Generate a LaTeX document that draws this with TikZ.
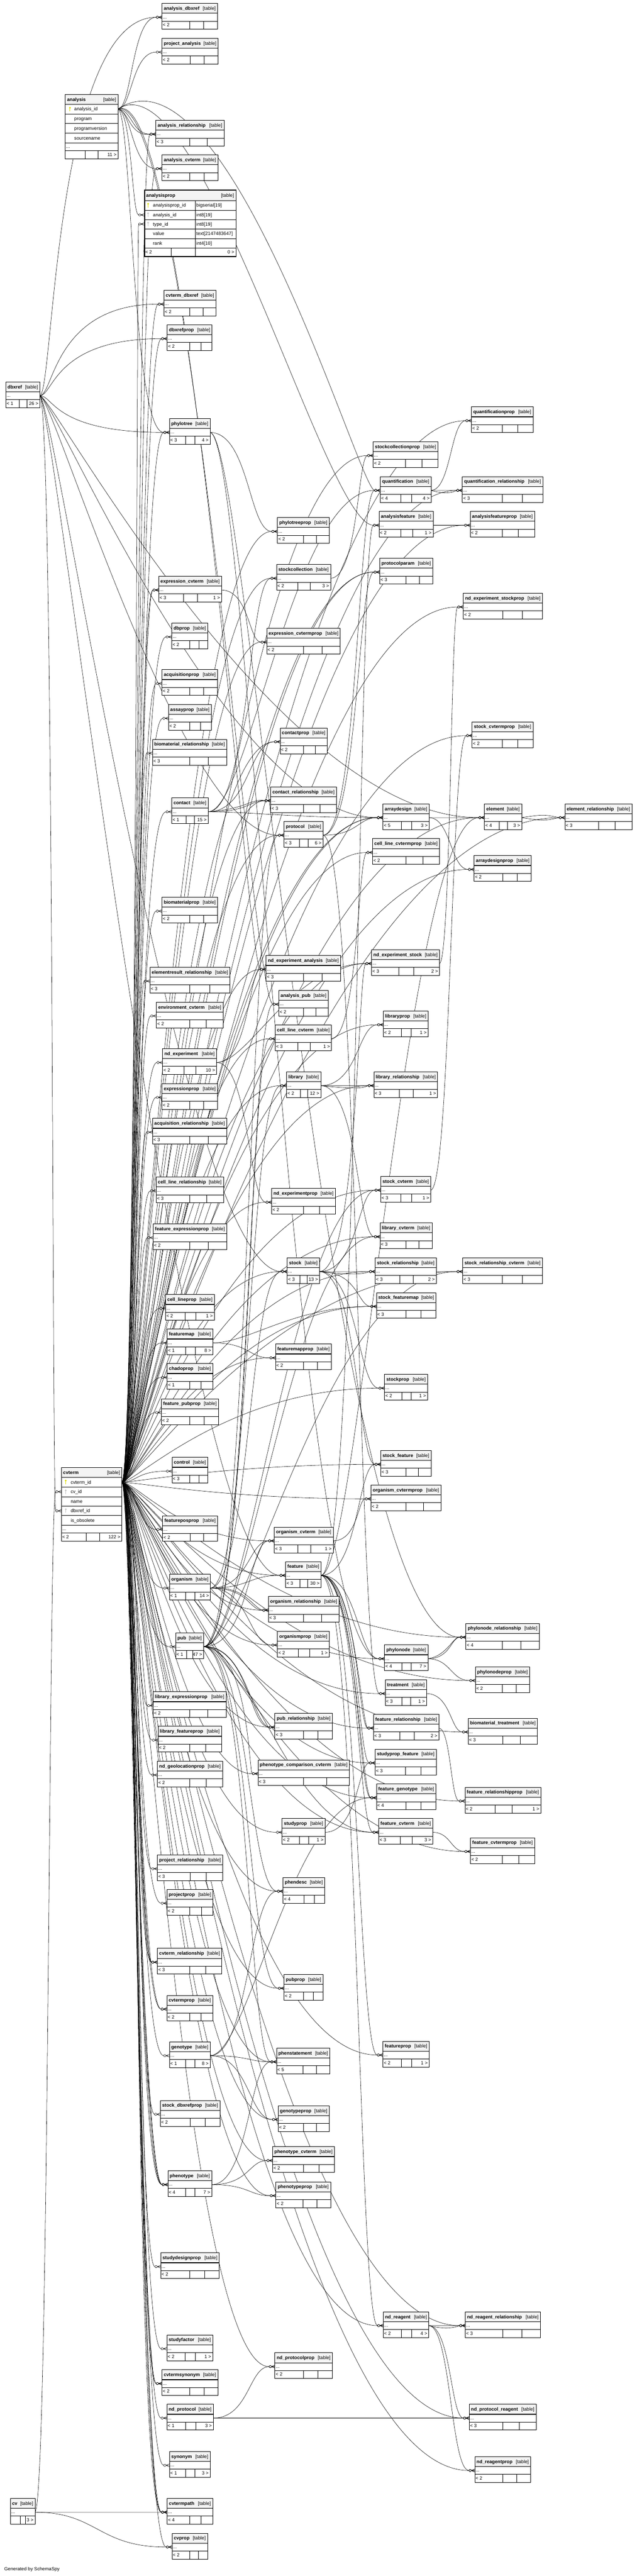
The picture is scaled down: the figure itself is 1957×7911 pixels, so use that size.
\documentclass[tikz,border=0pt]{standalone}
\usepackage{fontspec}
\setmainfont{Liberation Sans}
\usetikzlibrary{calc}
\definecolor{hdrfill}{HTML}{F4F4F4}
\definecolor{pkkey}{HTML}{DCDC00}
\definecolor{fkkey}{HTML}{C4C4C4}
\pgfdeclarelayer{paper}
\pgfdeclarelayer{bg}
\pgfsetlayers{paper,bg,main}
\tikzset{
  tbox/.style={draw, line width=1.1pt, inner sep=0pt, anchor=north west},
  lbl/.style={inner sep=0pt, anchor=base west},
  rlbl/.style={inner sep=0pt, anchor=base east},
  fk/.style={line width=0.9pt, line cap=round},
  hline/.style={line width=1.8pt},
  fline/.style={line width=1.4pt}
}
% collapsed table: name, x1, y1, x2, parents, children
\newcommand\schtab[6]{%
  \pgfmathsetmacro\tabw{#4-#2}%
  \ifx\relax#6\relax
    \pgfmathsetmacro\tabda{#2+0.5*\tabw}\pgfmathsetmacro\tabdb{#2+0.75*\tabw}%
  \else
    \pgfmathsetmacro\tabda{#2+0.4*\tabw}\pgfmathsetmacro\tabdb{#2+0.62*\tabw}%
  \fi
  \fill[white] (#2,#3) rectangle (#4,#3+79);
  \fill[hdrfill] (#2,#3) rectangle (#4,#3+31);
  \node[lbl] at (#2+6,#3+21) {\bfseries #1};
  \node[rlbl] at (#4-5,#3+21) {[table]};
  \node[lbl] at (#2+3,#3+47) {...};
  \draw[hline] (#2,#3+31) -- (#4,#3+31);
  \draw[fline] (#2,#3+55) -- (#4,#3+55);
  \draw (\tabda,#3+55) -- (\tabda,#3+79) (\tabdb,#3+55) -- (\tabdb,#3+79);
  \ifx\relax#5\relax\else\node[lbl] at (#2+3,#3+72) {< #5};\fi
  \ifx\relax#6\relax\else\node[rlbl] at (#4-4,#3+72) {#6 >};\fi
  \node[tbox, minimum width=\tabw pt, minimum height=79pt] (#1) at (#2,#3) {};
  \coordinate (#1-l) at (#2,#3+43);
  \coordinate (#1-r) at (#4,#3+43);
}
% key icon: x, y, colour
\newcommand\keyicon[3]{%
  \draw[#3, line width=1.8pt] (#1,#2-2) -- (#1,#2+7);
  \fill[#3] (#1,#2-4) circle[radius=3pt];
}
% crow foot with open circle at the child end
\newcommand\crowend{%
    ({\x2-10pt},\y2) -- (\p2)
    ({\x2-10pt},\y2) -- (\x2,{\y2+4pt})
    ({\x2-10pt},\y2) -- (\x2,{\y2-4pt})
    ({\x2-13.5pt},\y2) circle[radius=3.5pt]}
% foreign key: [bend], from, to, leaving x, arriving x
\newcommand\fk[5][0]{%
  \draw[fk] let \p1=(#2), \p2=(#3) in
    (\p1) .. controls (#4pt,{\y1+#1pt}) and (#5pt,{\y2+#1pt}) .. ({\x2-17pt},\y2)
    \crowend;
}
% foreign key arching over: from, to, first control x, y, arriving x
\newcommand\fkarc[5]{%
  \draw[fk] let \p1=(#1), \p2=(#2) in
    (\p1) .. controls (#3,#4) and (#5pt,\y2) .. ({\x2-17pt},\y2)
    \crowend;
}
\begin{document}
\catcode`\_=12
\fontsize{14.5}{17}\selectfont
\begin{tikzpicture}[x=1pt,y=-1pt]
\useasboundingbox (0,0) rectangle (1957,7911);
\begin{pgfonlayer}{paper}
\fill[white] (0,0) rectangle (1957,7911);
\end{pgfonlayer}

% analysis
\fill[white] (200,290) rectangle (362,487);
\fill[hdrfill] (200,290) rectangle (362,320);
\node[lbl] at (206,311) {\bfseries analysis};
\node[rlbl] at (357,311) {[table]};
\foreach \yy/\tx in {320/analysis_id,350/program,379/programversion,409/sourcename}
  {\node[lbl] at (228,\yy+20) {\tx};}
\draw (200,350) -- (362,350) (200,379) -- (362,379) (200,409) -- (362,409) (200,439) -- (362,439);
\draw[hline] (200,320) -- (362,320);
\draw[fline] (200,463) -- (362,463);
\node[lbl] at (203,455) {...};
\draw (262,463) -- (262,487) (301,463) -- (301,487);
\node[rlbl] at (358,480) {11 >};
\keyicon{215}{335}{pkkey}
\node[tbox, minimum width=162pt, minimum height=197pt] (analysis) at (200,290) {};
\coordinate (analysis-r) at (362,335);

% analysisprop
\fill[white] (443,583) rectangle (724,787);
\fill[hdrfill] (443,583) rectangle (724,616);
\node[lbl] at (449,605) {\bfseries analysisprop};
\node[rlbl] at (719,605) {[table]};
\foreach \yy/\cn/\ct in {616/analysisprop_id/bigserial[19],645/analysis_id/int8[19],674/type_id/int8[19],703/value/text[2147483647],732/rank/int4[10]}
  {\node[lbl] at (470,\yy+20) {\cn}; \node[lbl] at (603,\yy+20) {\ct};}
\draw (443,645) -- (724,645) (443,674) -- (724,674) (443,703) -- (724,703) (443,732) -- (724,732);
\draw[hline] (443,616) -- (724,616);
\draw[fline] (443,761) -- (724,761);
\draw (600,616) -- (600,787) (526,761) -- (526,787);
\node[lbl] at (446,780) {< 2};
\node[rlbl] at (720,780) {0 >};
\keyicon{455}{630}{pkkey}
\keyicon{455}{659}{fkkey}
\keyicon{455}{688}{fkkey}
\node[tbox, line width=2.5pt, minimum width=281pt, minimum height=204pt] (analysisprop) at (443,583) {};
\coordinate (aprop-a) at (443,660);
\coordinate (aprop-t) at (443,688);

% cvterm
\fill[white] (188,4506) rectangle (374,4732);
\fill[hdrfill] (188,4506) rectangle (374,4537);
\node[lbl] at (194,4527) {\bfseries cvterm};
\node[rlbl] at (369,4527) {[table]};
\foreach \yy/\tx in {4537/cvterm_id,4566/cv_id,4596/name,4625/dbxref_id,4654/is_obsolete}
  {\node[lbl] at (217,\yy+20) {\tx};}
\draw (188,4566) -- (374,4566) (188,4596) -- (374,4596) (188,4625) -- (374,4625) (188,4654) -- (374,4654) (188,4683) -- (374,4683);
\draw[hline] (188,4537) -- (374,4537);
\draw[fline] (188,4708) -- (374,4708);
\node[lbl] at (191,4700) {...};
\draw (265,4708) -- (265,4732) (306,4708) -- (306,4732);
\node[lbl] at (191,4725) {< 2};
\node[rlbl] at (370,4725) {122 >};
\keyicon{202}{4551}{pkkey}
\keyicon{202}{4581}{fkkey}
\keyicon{202}{4639}{fkkey}
\node[tbox, minimum width=186pt, minimum height=226pt] (cvterm) at (188,4506) {};
\coordinate (cvterm-r) at (374,4552);
\coordinate (cvterm-cv) at (188,4581);
\coordinate (cvterm-dx) at (188,4640);

\schtab{dbxref}{17}{1172}{122}{1}{26}
\schtab{cv}{31}{7672}{107}{}{3}

\schtab{analysis_dbxref}{497}{10}{668}{2}{}
\schtab{project_analysis}{497}{117}{670}{2}{}
\schtab{analysis_relationship}{478}{369}{688}{3}{}
\schtab{analysis_cvterm}{497}{475}{669}{2}{}
\schtab{cvterm_dbxref}{503}{891}{663}{2}{}
\schtab{dbxrefprop}{513}{997}{651}{2}{}
\schtab{phylotree}{520}{1285}{645}{3}{4}
\schtab{expression_cvterm}{487}{1769}{680}{3}{1}
\schtab{dbprop}{527}{1913}{638}{2}{}
\schtab{acquisitionprop}{497}{2056}{668}{2}{}
\schtab{assayprop}{517}{2163}{649}{2}{}
\schtab{biomaterial_relationship}{468}{2270}{696}{3}{}
\schtab{contact}{527}{2450}{639}{1}{15}
\schtab{biomaterialprop}{497}{2755}{668}{2}{}
\schtab{elementresult_relationship}{460}{2970}{706}{3}{}
\schtab{environment_cvterm}{480}{3077}{685}{2}{}
\schtab{nd_experiment}{499}{3220}{665}{2}{10}
\schtab{expressionprop}{497}{3327}{668}{2}{}
\schtab{acquisition_relationship}{468}{3434}{696}{3}{}
\schtab{cell_line_relationship}{479}{3614}{686}{3}{}
\schtab{feature_expressionprop}{470}{3758}{696}{2}{}
\schtab{cell_lineprop}{508}{3975}{658}{2}{1}
\schtab{featuremap}{513}{4081}{653}{1}{8}
\schtab{chadoprop}{513}{4187}{653}{1}{}
\schtab{feature_pubprop}{495}{4295}{671}{2}{}
\schtab{control}{528}{4475}{638}{3}{}
\schtab{featureposprop}{499}{4654}{668}{2}{}
\schtab{organism}{520}{4834}{646}{1}{14}
\schtab{pub}{539}{5014}{625}{1}{47}
\schtab{library_expressionprop}{470}{5195}{694}{2}{}
\schtab{library_featureprop}{485}{5301}{680}{2}{}
\schtab{nd_geolocationprop}{483}{5408}{683}{2}{}
\schtab{project_relationship}{483}{5696}{684}{3}{}
\schtab{projectprop}{512}{5802}{654}{2}{}
\schtab{cvterm_relationship}{483}{5983}{681}{3}{}
\schtab{cvtermprop}{512}{6127}{653}{2}{}
\schtab{genotype}{520}{6270}{645}{1}{8}
\schtab{stock_dbxrefprop}{492}{6450}{675}{2}{}
\schtab{phenotype}{515}{6666}{650}{4}{7}
\schtab{studydesignprop}{493}{6918}{673}{2}{}
\schtab{studyfactor}{512}{7170}{653}{2}{1}
\schtab{cvtermsynonym}{497}{7277}{669}{2}{}
\schtab{nd_protocol}{512}{7383}{655}{1}{3}
\schtab{synonym}{520}{7528}{645}{1}{3}
\schtab{cvtermpath}{513}{7672}{653}{4}{}
\schtab{cvprop}{528}{7779}{637}{2}{}

\schtab{phylotreeprop}{852}{1589}{1011}{2}{}
\schtab{stockcollection}{849}{1733}{1015}{2}{3}
\schtab{expression_cvtermprop}{819}{1929}{1045}{2}{}
\schtab{contactprop}{860}{2235}{1005}{2}{}
\schtab{contact_relationship}{831}{2416}{1033}{3}{}
\schtab{protocol}{872}{2522}{992}{3}{6}
\schtab{nd_experiment_analysis}{817}{2934}{1046}{3}{}
\schtab{analysis_pub}{856}{3041}{1008}{2}{}
\schtab{cell_line_cvterm}{845}{3147}{1018}{3}{1}
\schtab{library}{880}{3291}{985}{2}{12}
\schtab{nd_experimentprop}{834}{3649}{1030}{2}{}
\schtab{stock}{882}{3862}{981}{3}{13}
\schtab{featuremapprop}{846}{4127}{1018}{2}{}
\schtab{organism_cvterm}{842}{4689}{1023}{3}{1}
\schtab{feature}{877}{4795}{986}{3}{30}
\schtab{organism_relationship}{824}{4902}{1041}{3}{}
\schtab{organismprop}{852}{5009}{1011}{2}{1}
\schtab{pub_relationship}{844}{5261}{1021}{3}{}
\schtab{phenotype_comparison_cvterm}{792}{5404}{1073}{3}{}
\schtab{studyprop}{866}{5584}{998}{2}{1}
\schtab{phendesc}{869}{5765}{997}{4}{}
\schtab{pubprop}{872}{6063}{992}{2}{}
\schtab{phenstatement}{849}{6289}{1013}{5}{}
\schtab{genotypeprop}{854}{6466}{1011}{2}{}
\schtab{phenotype_cvterm}{837}{6592}{1027}{2}{}
\schtab{phenotypeprop}{847}{6700}{1015}{2}{}
\schtab{nd_protocolprop}{844}{7225}{1021}{2}{}

\schtab{stockcollectionprop}{1146}{1356}{1345}{2}{}
\schtab{quantification}{1168}{1463}{1324}{4}{4}
\schtab{analysisfeature}{1164}{1570}{1330}{2}{1}
\schtab{protocolparam}{1166}{1714}{1329}{3}{}
\schtab{arraydesign}{1176}{2468}{1318}{5}{3}
\schtab{cell_line_cvtermprop}{1144}{2575}{1350}{2}{}
\schtab{nd_experiment_stock}{1141}{2916}{1350}{3}{2}
\schtab{libraryprop}{1177}{3104}{1315}{2}{1}
\schtab{library_relationship}{1148}{3291}{1344}{3}{1}
\schtab{stock_cvterm}{1169}{3612}{1323}{3}{1}
\schtab{library_cvterm}{1167}{3755}{1327}{3}{}
\schtab{stock_relationship}{1152}{3862}{1340}{3}{2}
\schtab{stock_featuremap}{1156}{3969}{1339}{3}{}
\schtab{stockprop}{1181}{4220}{1313}{2}{1}
\schtab{stock_feature}{1169}{4454}{1324}{3}{}
\schtab{organism_cvtermprop}{1139}{4560}{1354}{2}{}
\schtab{phylonode}{1181}{5051}{1314}{4}{7}
\schtab{treatment}{1183}{5158}{1310}{3}{1}
\schtab{feature_relationship}{1147}{5264}{1348}{3}{2}
\schtab{studyprop_feature}{1152}{5371}{1340}{3}{}
\schtab{feature_genotype}{1156}{5478}{1339}{4}{}
\schtab{feature_cvterm}{1163}{5584}{1329}{3}{3}
\schtab{featureprop}{1176}{6268}{1318}{2}{1}
\schtab{nd_reagent}{1177}{7099}{1317}{2}{4}

\schtab{quantificationprop}{1448}{1249}{1637}{2}{}
\schtab{quantification_relationship}{1420}{1463}{1667}{3}{}
\schtab{analysisfeatureprop}{1444}{1570}{1642}{2}{}
\schtab{nd_experiment_stockprop}{1423}{1821}{1666}{2}{}
\schtab{stock_cvtermprop}{1450}{2216}{1637}{2}{}
\schtab{element}{1488}{2468}{1602}{4}{3}
\schtab{arraydesignprop}{1456}{2627}{1632}{2}{}
\schtab{stock_relationship_cvterm}{1421}{3862}{1666}{3}{}
\schtab{phylonode_relationship}{1431}{4985}{1656}{4}{}
\schtab{phylonodeprop}{1460}{5118}{1627}{2}{}
\schtab{biomaterial_treatment}{1438}{5276}{1651}{3}{}
\schtab{feature_relationshipprop}{1428}{5488}{1661}{2}{1}
\schtab{feature_cvtermprop}{1445}{5643}{1642}{2}{}
\schtab{nd_reagent_relationship}{1429}{7099}{1660}{3}{}
\schtab{nd_protocol_reagent}{1441}{7383}{1647}{3}{}
\schtab{nd_reagentprop}{1458}{7544}{1630}{2}{}

\schtab{element_relationship}{1735}{2468}{1941}{3}{}

\node[lbl] (gen) at (13,7895) {Generated by SchemaSpy};

\begin{pgfonlayer}{bg}
% from analysis
\foreach \c in {analysis_dbxref,project_analysis,analysis_relationship,analysis_cvterm,phylotree}
  {\fk{analysis-r}{\c-l}{405}{405}}
\fk[-8]{analysis-r}{analysis_relationship-l}{398}{398}
\fk{analysis-r}{aprop-a}{405}{405}
\fkarc{analysis-r}{quantification-l}{700}{110}{1105}
\fkarc{analysis-r}{analysisfeature-l}{620}{170}{1000}
\fkarc{analysis-r}{nd_experiment_analysis-l}{580}{240}{760}
\fkarc{analysis-r}{analysis_pub-l}{580}{270}{775}
% from dbxref
\foreach \c in {analysis_dbxref,cvterm_dbxref,dbxrefprop,phylotree} {\fk{dbxref-r}{\c-l}{165}{165}}
\fk{dbxref-r}{cvterm-dx}{165}{160}
\foreach \c in {protocol,feature,stock} {\fk{dbxref-r}{\c-l}{165}{560}}
\fk{dbxref-r}{arraydesign-l}{165}{700}
\fk{dbxref-r}{element-l}{165}{850}
% from cv
\fk{cv-r}{cvterm-cv}{150}{150}
\fk{cv-r}{cvtermpath-l}{300}{300}
\fk{cv-r}{cvprop-l}{300}{300}
% from cvterm
\fk{cvterm-r}{aprop-t}{420}{420}
\foreach \c in {analysis_relationship,analysis_cvterm,cvterm_dbxref,dbxrefprop,phylotree,expression_cvterm,dbprop,acquisitionprop,assayprop,biomaterial_relationship,contact,biomaterialprop,elementresult_relationship,environment_cvterm,nd_experiment,expressionprop,acquisition_relationship,cell_line_relationship,feature_expressionprop,cell_lineprop,featuremap,chadoprop,feature_pubprop,control,featureposprop,organism,pub,library_expressionprop,library_featureprop,nd_geolocationprop,project_relationship,projectprop,cvterm_relationship,cvtermprop,genotype,stock_dbxrefprop,phenotype,studydesignprop,studyfactor,cvtermsynonym,nd_protocol,synonym,cvtermpath,cvprop}
  {\fk{cvterm-r}{\c-l}{420}{420}}
\foreach \c in {expression_cvterm,cvterm_relationship,cvtermprop,phenotype,cvtermsynonym,cvtermpath}
  {\fk[6]{cvterm-r}{\c-l}{410}{430}}
\foreach \c in {cvterm_relationship,phenotype,cvtermpath}
  {\fk[-6]{cvterm-r}{\c-l}{430}{410}}
\fk[10]{cvterm-r}{phenotype-l}{400}{436}
\foreach \c in {phylotreeprop,stockcollection,expression_cvtermprop,contactprop,contact_relationship,protocol,nd_experiment_analysis,cell_line_cvterm,library,nd_experimentprop,stock,featuremapprop,organism_cvterm,feature,organism_relationship,organismprop,pub_relationship,phenotype_comparison_cvterm,studyprop,phendesc,pubprop,phenstatement,genotypeprop,phenotype_cvterm,phenotypeprop,nd_protocolprop}
  {\fk{cvterm-r}{\c-l}{420}{560}}
\foreach \c in {stockcollectionprop,protocolparam,arraydesign,cell_line_cvtermprop,nd_experiment_stock,libraryprop,library_relationship,stock_cvterm,library_cvterm,stock_relationship,stock_featuremap,stockprop,stock_feature,organism_cvtermprop,phylonode,treatment,feature_relationship,studyprop_feature,feature_genotype,feature_cvterm,featureprop,nd_reagent}
  {\fk{cvterm-r}{\c-l}{420}{700}}
\foreach \c in {protocolparam,arraydesign} {\fk[8]{cvterm-r}{\c-l}{425}{720}}
\foreach \c in {quantificationprop,quantification_relationship,analysisfeatureprop,nd_experiment_stockprop,stock_cvtermprop,element,arraydesignprop,stock_relationship_cvterm,phylonode_relationship,phylonodeprop,biomaterial_treatment,feature_relationshipprop,feature_cvtermprop,nd_reagent_relationship,nd_protocol_reagent,nd_reagentprop}
  {\fk{cvterm-r}{\c-l}{420}{850}}
\fk{cvterm-r}{element_relationship-l}{420}{1000}
% from the other parents
\foreach \c in {contactprop,contact_relationship,stockcollection} {\fk{contact-r}{\c-l}{765}{765}}
\fk[8]{contact-r}{contact_relationship-l}{755}{775}
\foreach \c in {arraydesign,quantification} {\fk{contact-r}{\c-l}{765}{900}}
\foreach \c in {protocolparam,arraydesign,treatment,quantification} {\fk{protocol-r}{\c-l}{1100}{1100}}
\fk{phylotree-r}{phylotreeprop-l}{765}{765}
\fk{phylotree-r}{phylonode-l}{765}{900}
\fk{phylotree-r}{phylonode_relationship-l}{765}{1000}
\fk{stockcollection-r}{stockcollectionprop-l}{1100}{1100}
\fk{expression_cvterm-r}{expression_cvtermprop-l}{765}{765}
\foreach \c in {nd_experiment_analysis,nd_experimentprop} {\fk{nd_experiment-r}{\c-l}{765}{765}}
\fk{nd_experiment-r}{nd_experiment_stock-l}{765}{900}
\foreach \c in {organism_cvterm,feature,organism_relationship,organismprop,stock,library} {\fk{organism-r}{\c-l}{765}{765}}
\fk[8]{organism-r}{organism_relationship-l}{755}{775}
\foreach \c in {analysis_pub,cell_line_cvterm,protocol,organism_cvterm,pub_relationship,phenotype_comparison_cvterm,phendesc,pubprop,phenstatement} {\fk{pub-r}{\c-l}{765}{765}}
\fk[8]{pub-r}{pub_relationship-l}{755}{775}
\foreach \c in {stock_cvterm,library_cvterm,feature_cvterm} {\fk{pub-r}{\c-l}{765}{900}}
\fk{pub-r}{stock_relationship_cvterm-l}{765}{1000}
\fk{featuremap-r}{featuremapprop-l}{765}{765}
\fk{featuremap-r}{stock_featuremap-l}{765}{900}
\foreach \c in {genotypeprop,phenstatement,phendesc} {\fk{genotype-r}{\c-l}{765}{765}}
\fk{genotype-r}{feature_genotype-l}{765}{900}
\foreach \c in {phenotype_cvterm,phenotypeprop,phenstatement} {\fk{phenotype-r}{\c-l}{765}{765}}
\fk{nd_protocol-r}{nd_protocolprop-l}{765}{765}
\fk{nd_protocol-r}{nd_protocol_reagent-l}{765}{1000}
\fk{cell_line_cvterm-r}{cell_line_cvtermprop-l}{1100}{1100}
\foreach \c in {libraryprop,library_relationship,library_cvterm} {\fk{library-r}{\c-l}{1100}{1100}}
\fk[-10]{library-r}{library_relationship-l}{1080}{1110}
\foreach \c in {nd_experiment_stock,stock_cvterm,stock_relationship,stock_featuremap,stockprop,stock_feature} {\fk{stock-r}{\c-l}{1100}{1100}}
\fk[-10]{stock-r}{stock_relationship-l}{1080}{1110}
\fk{organism_cvterm-r}{organism_cvtermprop-l}{1100}{1100}
\foreach \c in {analysisfeature,stock_feature,phylonode,feature_relationship,studyprop_feature,feature_genotype,feature_cvterm,featureprop,nd_reagent} {\fk{feature-r}{\c-l}{1100}{1100}}
\foreach \c in {feature_relationship,feature_genotype} {\fk[8]{feature-r}{\c-l}{1090}{1110}}
\fk{feature-r}{element-l}{1100}{1250}
\fk{studyprop-r}{studyprop_feature-l}{1100}{1100}
\foreach \c in {quantificationprop,quantification_relationship} {\fk{quantification-r}{\c-l}{1385}{1385}}
\fk[-10]{quantification-r}{quantification_relationship-l}{1360}{1385}
\fk{analysisfeature-r}{analysisfeatureprop-l}{1385}{1385}
\foreach \c in {element,arraydesignprop} {\fk{arraydesign-r}{\c-l}{1385}{1385}}
\fk{nd_experiment_stock-r}{nd_experiment_stockprop-l}{1385}{1385}
\fk{stock_cvterm-r}{stock_cvtermprop-l}{1385}{1385}
\fk{stock_relationship-r}{stock_relationship_cvterm-l}{1385}{1385}
\foreach \c in {phylonode_relationship,phylonodeprop} {\fk{phylonode-r}{\c-l}{1385}{1385}}
\fk[8]{phylonode-r}{phylonode_relationship-l}{1375}{1395}
\fk{treatment-r}{biomaterial_treatment-l}{1385}{1385}
\fk{feature_relationship-r}{feature_relationshipprop-l}{1385}{1385}
\fk{feature_cvterm-r}{feature_cvtermprop-l}{1385}{1385}
\foreach \c in {nd_reagent_relationship,nd_protocol_reagent,nd_reagentprop} {\fk{nd_reagent-r}{\c-l}{1385}{1385}}
\fk[-10]{nd_reagent-r}{nd_reagent_relationship-l}{1360}{1385}
\fk[10]{element-r}{element_relationship-l}{1670}{1670}
\fk[-10]{element-r}{element_relationship-l}{1670}{1670}
\end{pgfonlayer}
\end{tikzpicture}
\end{document}
